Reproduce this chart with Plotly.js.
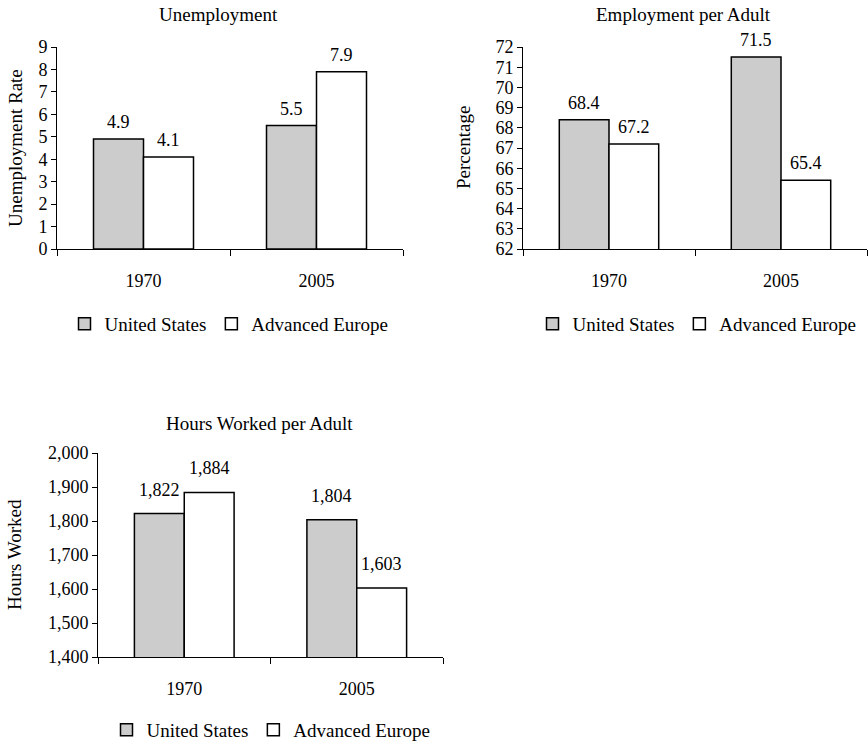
<!DOCTYPE html>
<html>
<head>
<meta charset="utf-8">
<script src="https://cdn.plot.ly/plotly-3.0.1.min.js"></script>
<style>
  html, body { margin: 0; padding: 0; background: #ffffff; }
  #chart { width: 868px; height: 742px; }
</style>
</head>
<body>
<div id="chart"></div>
<script>
// Categories and series
const years = ['1970', '2005'];
const seriesNames = ['United States', 'Advanced Europe'];

const unemploymentUS = [4.9, 5.5];
const unemploymentEurope = [4.1, 7.9];

const employmentUS = [68.4, 71.5];
const employmentEurope = [67.2, 65.4];

const hoursUS = [1822, 1804];
const hoursEurope = [1884, 1603];

const panelTitles = ['Unemployment', 'Employment per Adult', 'Hours Worked per Adult'];
const yTitles = ['Unemployment Rate', 'Percentage', 'Hours Worked'];

// Styling
const FONT = 'Liberation Serif, Times New Roman, serif';
const FS = 18;      // numbers
const FS_TXT = 19;  // words (titles, legend)
const US_FILL = '#cccccc';
const EU_FILL = '#ffffff';
const W = 868, H = 742;
const px = v => v / W;
const py = v => (H - v) / H;

const panels = [
  { us: unemploymentUS, eu: unemploymentEurope, xa: 'x', ya: 'y', legend: 'legend',
    fmt: v => v.toFixed(1), shift: 17 },
  { us: employmentUS, eu: employmentEurope, xa: 'x2', ya: 'y2', legend: 'legend2',
    fmt: v => v.toFixed(1), shift: 17 },
  { us: hoursUS, eu: hoursEurope, xa: 'x3', ya: 'y3', legend: 'legend3',
    fmt: v => v.toLocaleString('en-US'), shift: 24 }
];

const traces = [];
const annotations = [];

panels.forEach(p => {
  traces.push({
    type: 'bar', x: years, y: p.us, name: seriesNames[0],
    xaxis: p.xa, yaxis: p.ya, legend: p.legend,
    marker: { color: US_FILL, line: { color: '#000000', width: 1.5 } },
    hoverinfo: 'skip'
  });
  traces.push({
    type: 'bar', x: years, y: p.eu, name: seriesNames[1],
    xaxis: p.xa, yaxis: p.ya, legend: p.legend,
    marker: { color: EU_FILL, line: { color: '#000000', width: 1.5 } },
    hoverinfo: 'skip'
  });
  // value labels above each bar (x given as category index)
  years.forEach((yr, i) => {
    [[p.us[i], -25], [p.eu[i], 25]].forEach(([val, dx]) => {
      annotations.push({
        x: i, y: val, xref: p.xa, yref: p.ya,
        xshift: dx, yshift: p.shift, yanchor: 'middle',
        text: p.fmt(val), showarrow: false,
        font: { family: FONT, size: FS, color: '#000' }
      });
    });
  });
});

// panel titles
[[218, 15], [683, 15], [259, 423]].forEach(([cx, cy], i) => {
  annotations.push({
    xref: 'paper', yref: 'paper', x: px(cx), y: py(cy),
    xanchor: 'center', yanchor: 'middle', showarrow: false,
    text: panelTitles[i], font: { family: FONT, size: FS_TXT, color: '#000' }
  });
});

// y-axis titles
[[15, 148], [463, 148], [14, 555]].forEach(([cx, cy], i) => {
  annotations.push({
    xref: 'paper', yref: 'paper', x: px(cx), y: py(cy),
    xanchor: 'center', yanchor: 'middle', showarrow: false, textangle: -90,
    text: yTitles[i], font: { family: FONT, size: FS_TXT, color: '#000' }
  });
});

const xBase = {
  type: 'category', range: [-0.5, 1.5], autorange: false,
  showline: true, linecolor: '#000', linewidth: 1,
  ticks: 'outside', tickson: 'boundaries', ticklen: 6, tickcolor: '#000',
  ticklabelstandoff: 15, tickangle: 0, showgrid: false, zeroline: false, fixedrange: true,
  tickfont: { family: FONT, size: FS, color: '#000' }
};
const yBase = {
  autorange: false, showline: true, linecolor: '#000', linewidth: 1,
  ticks: 'outside', ticklen: 5, tickcolor: '#000',
  showgrid: false, zeroline: false, fixedrange: true,
  tickfont: { family: FONT, size: FS, color: '#000' }
};

const legendBase = {
  orientation: 'h', xanchor: 'center', yanchor: 'middle',
  font: { family: FONT, size: FS_TXT, color: '#000' },
  itemwidth: 30, bgcolor: 'rgba(0,0,0,0)', traceorder: 'normal'
};

const layout = {
  width: W, height: H,
  margin: { l: 0, r: 0, t: 0, b: 0, autoexpand: false },
  paper_bgcolor: '#ffffff', plot_bgcolor: '#ffffff',
  barmode: 'group', bargap: 0.422, bargroupgap: 0,
  showlegend: true,
  font: { family: FONT, size: FS, color: '#000' },

  xaxis: Object.assign({}, xBase, { domain: [px(57), px(403)], anchor: 'y' }),
  yaxis: Object.assign({}, yBase, { domain: [py(249), py(47)], anchor: 'x',
    range: [0, 9], dtick: 1, tick0: 0 }),

  xaxis2: Object.assign({}, xBase, { domain: [px(523), px(867)], anchor: 'y2' }),
  yaxis2: Object.assign({}, yBase, { domain: [py(249), py(47)], anchor: 'x2',
    range: [62, 72], dtick: 1, tick0: 62 }),

  xaxis3: Object.assign({}, xBase, { domain: [px(98), px(443)], anchor: 'y3' }),
  yaxis3: Object.assign({}, yBase, { domain: [py(657), py(453)], anchor: 'x3',
    range: [1400, 2000], dtick: 100, tick0: 1400, tickformat: ',d' }),

  legend: Object.assign({}, legendBase, { x: px(229), y: py(324) }),
  legend2: Object.assign({}, legendBase, { x: px(697), y: py(324) }),
  legend3: Object.assign({}, legendBase, { x: px(271), y: py(730) }),

  annotations: annotations
};

Plotly.newPlot('chart', traces, layout, { staticPlot: true, displayModeBar: false });
</script>
</body>
</html>
